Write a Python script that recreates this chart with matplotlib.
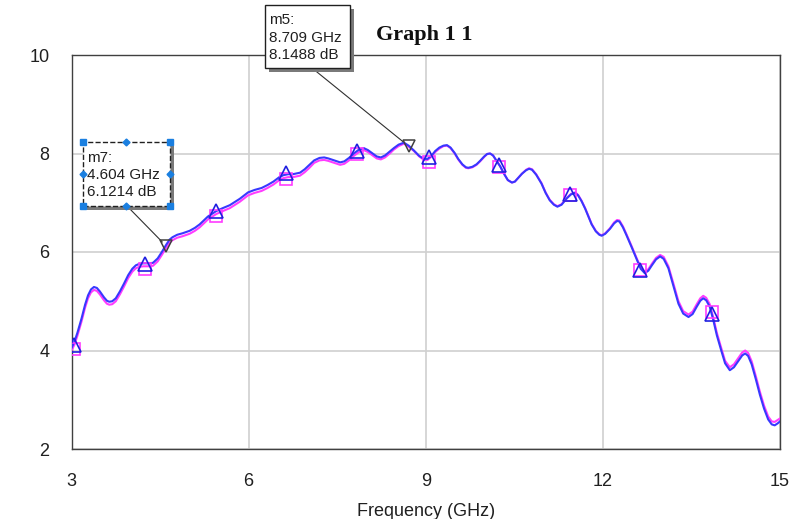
import matplotlib
matplotlib.use("Agg")
import matplotlib.pyplot as plt
from matplotlib.patches import Rectangle

# traces (GHz, dB)
freq = [3.00, 3.05, 3.10, 3.17, 3.23, 3.28, 3.33, 3.38, 3.43, 3.48,
        3.55, 3.60, 3.64, 3.69, 3.75, 3.82, 3.89, 3.96, 4.03, 4.09,
        4.15, 4.22, 4.30, 4.38, 4.46, 4.53, 4.60, 4.66, 4.71, 4.79,
        4.88, 5.00, 5.09, 5.17, 5.31, 5.45, 5.56, 5.68, 5.85, 5.99,
        6.10, 6.22, 6.32, 6.42, 6.52, 6.59, 6.67, 6.75, 6.87, 6.95,
        7.03, 7.11, 7.20, 7.28, 7.35, 7.45, 7.55, 7.62, 7.70, 7.78,
        7.87, 7.95, 8.02, 8.10, 8.17, 8.24, 8.31, 8.39, 8.46, 8.54,
        8.63, 8.71, 8.80, 8.89, 8.97, 9.03, 9.10, 9.16, 9.23, 9.30,
        9.36, 9.42, 9.49, 9.55, 9.62, 9.68, 9.72, 9.79, 9.86, 9.92,
        9.99, 10.04, 10.09, 10.14, 10.20, 10.26, 10.33, 10.39, 10.46, 10.51,
        10.57, 10.63, 10.70, 10.75, 10.80, 10.87, 10.96, 11.03, 11.10, 11.17,
        11.23, 11.30, 11.39, 11.46, 11.53, 11.58, 11.64, 11.70, 11.81, 11.88,
        11.94, 11.98, 12.04, 12.12, 12.19, 12.24, 12.28, 12.34, 12.40, 12.49,
        12.57, 12.64, 12.71, 12.77, 12.83, 12.90, 12.97, 13.03, 13.11, 13.19,
        13.28, 13.36, 13.45, 13.52, 13.59, 13.65, 13.70, 13.75, 13.81, 13.87,
        13.93, 14.00, 14.07, 14.15, 14.22, 14.29, 14.36, 14.41, 14.46, 14.52,
        14.59, 14.66, 14.73, 14.80, 14.86, 14.91, 14.96, 15.00]

db_blue = [4.05, 4.18, 4.36, 4.65, 4.93, 5.12, 5.24, 5.29, 5.27, 5.20,
           5.08, 5.01, 4.99, 5.00, 5.06, 5.20, 5.36, 5.53, 5.66, 5.73,
           5.76, 5.77, 5.77, 5.78, 5.87, 6.00, 6.14, 6.25, 6.30, 6.35,
           6.38, 6.43, 6.49, 6.56, 6.72, 6.83, 6.89, 6.95, 7.08, 7.21,
           7.26, 7.30, 7.36, 7.43, 7.52, 7.56, 7.58, 7.58, 7.61, 7.68,
           7.77, 7.86, 7.91, 7.92, 7.90, 7.86, 7.82, 7.84, 7.91, 8.00,
           8.08, 8.11, 8.07, 8.00, 7.94, 7.92, 7.96, 8.04, 8.11, 8.18,
           8.22, 8.16, 8.06, 7.95, 7.89, 7.89, 7.96, 8.05, 8.12, 8.16,
           8.17, 8.12, 8.01, 7.89, 7.78, 7.72, 7.71, 7.73, 7.78, 7.85,
           7.94, 7.99, 8.00, 7.96, 7.85, 7.74, 7.58, 7.46, 7.41, 7.43,
           7.51, 7.59, 7.66, 7.69, 7.67, 7.57, 7.39, 7.20, 7.05, 6.96,
           6.92, 6.96, 7.09, 7.17, 7.20, 7.15, 7.03, 6.88, 6.56, 6.42,
           6.35, 6.33, 6.37, 6.47, 6.58, 6.63, 6.62, 6.50, 6.34, 6.09,
           5.86, 5.66, 5.57, 5.62, 5.73, 5.85, 5.91, 5.86, 5.67, 5.33,
           4.95, 4.75, 4.68, 4.74, 4.89, 5.01, 5.06, 5.02, 4.89, 4.62,
           4.31, 4.02, 3.74, 3.60, 3.66, 3.78, 3.90, 3.94, 3.89, 3.72,
           3.42, 3.10, 2.82, 2.60, 2.50, 2.48, 2.52, 2.56]

db_pink = [4.00, 4.12, 4.30, 4.59, 4.87, 5.06, 5.18, 5.23, 5.21, 5.14,
           5.02, 4.95, 4.93, 4.94, 5.00, 5.14, 5.30, 5.47, 5.60, 5.67,
           5.70, 5.71, 5.71, 5.72, 5.81, 5.94, 6.08, 6.19, 6.24, 6.29,
           6.32, 6.37, 6.43, 6.50, 6.66, 6.77, 6.83, 6.89, 7.02, 7.15,
           7.20, 7.24, 7.30, 7.37, 7.46, 7.50, 7.52, 7.52, 7.55, 7.62,
           7.71, 7.81, 7.86, 7.87, 7.85, 7.81, 7.77, 7.79, 7.86, 7.95,
           8.03, 8.07, 8.03, 7.96, 7.90, 7.88, 7.92, 8.00, 8.08, 8.15,
           8.20, 8.14, 8.05, 7.94, 7.87, 7.87, 7.94, 8.03, 8.10, 8.15,
           8.16, 8.11, 8.00, 7.88, 7.77, 7.71, 7.70, 7.72, 7.77, 7.84,
           7.93, 7.99, 8.00, 7.96, 7.85, 7.74, 7.58, 7.46, 7.41, 7.43,
           7.51, 7.59, 7.67, 7.70, 7.68, 7.58, 7.40, 7.21, 7.06, 6.97,
           6.93, 6.97, 7.10, 7.18, 7.21, 7.16, 7.04, 6.89, 6.57, 6.43,
           6.36, 6.34, 6.38, 6.48, 6.60, 6.65, 6.64, 6.52, 6.36, 6.11,
           5.88, 5.69, 5.60, 5.65, 5.76, 5.88, 5.94, 5.90, 5.71, 5.38,
           5.00, 4.80, 4.73, 4.79, 4.94, 5.06, 5.11, 5.07, 4.94, 4.67,
           4.36, 4.07, 3.79, 3.66, 3.72, 3.84, 3.96, 4.00, 3.95, 3.78,
           3.48, 3.16, 2.88, 2.66, 2.56, 2.55, 2.59, 2.62]

# symbols drawn along each trace
tri_freq = [3.04, 4.24, 5.44, 6.64, 7.84, 9.05, 10.24, 11.44, 12.63, 13.84]
tri_db = [4.11, 5.76, 6.83, 7.60, 8.05, 7.93, 7.76, 7.17, 5.64, 4.75]
sq_freq = [3.04, 4.24, 5.44, 6.64, 7.84, 9.05, 10.24, 11.44, 12.63, 13.84]
sq_db = [4.03, 5.65, 6.73, 7.49, 7.98, 7.82, 7.73, 7.15, 5.64, 4.78]

# marker readouts
m_names = ['m5', 'm7']
m_freq = [8.709, 4.604]
m_db = [8.1488, 6.1214]

W, H = 800, 519
BLUE = '#3838ff'
PINK = '#ff3cff'


def fx(px):
    return px / W


def fy(py):
    return 1 - py / H


def draw_readout(fig, ax, box, name, f, d, anchor, selected=False):
    x0, y0, x1, y1 = box
    # shadow
    fig.patches.append(Rectangle((fx(x0 + 4), fy(y1 + 4)), fx(x1 - x0), (y1 - y0) / H,
                                 transform=fig.transFigure, facecolor='#7a7a7a',
                                 edgecolor='none', zorder=5))
    fig.patches.append(Rectangle((fx(x0), fy(y1)), fx(x1 - x0), (y1 - y0) / H,
                                 transform=fig.transFigure, facecolor='white',
                                 edgecolor='#202020', lw=1.0,
                                 linestyle='--' if selected else '-', zorder=6))
    fig.text(fx(x0 + 4), fy((y0 + y1) / 2 + 1),
             '{}:\n{:.3f} GHz\n{:.4f} dB'.format(name, f, d),
             ha='left', va='center', fontsize=11, family='Liberation Sans',
             color='#202020', linespacing=1.28, zorder=7)
    if selected:
        xm, ym = (x0 + x1) / 2, (y0 + y1) / 2
        for px, py in [(x0, y0), (x1, y0), (x0, y1), (x1, y1)]:
            fig.lines.append(plt.Line2D([fx(px)], [fy(py)], transform=fig.transFigure,
                                        marker='s', ms=4, color='#1a7fe0', zorder=8))
        for px, py in [(xm, y0), (xm, y1), (x0, ym), (x1, ym)]:
            fig.lines.append(plt.Line2D([fx(px)], [fy(py)], transform=fig.transFigure,
                                        marker='D', ms=3.5, color='#1a7fe0', zorder=8))
    ax.annotate('', xy=(f, d), xytext=(fx(anchor[0]), fy(anchor[1])),
                textcoords='figure fraction', annotation_clip=False,
                arrowprops=dict(arrowstyle='-', color='#303030', lw=0.8,
                                shrinkA=0, shrinkB=4))


def create_graph():
    fig = plt.figure(figsize=(W / 100, H / 100), dpi=100)
    ax = fig.add_axes([fx(71.5), fy(449), fx(780 - 71.5), (449 - 55) / H])

    ax.plot(freq, db_pink, color=PINK, lw=1.5, zorder=3)
    ax.plot(freq, db_blue, color=BLUE, lw=1.5, zorder=4)
    ax.plot(sq_freq, sq_db, ls='none', marker='s', ms=8.5, mfc='none',
            mec=PINK, mew=1.2, zorder=4)
    ax.plot(tri_freq, tri_db, ls='none', marker='^', ms=10, mfc='none',
            mec='#2020e0', mew=1.2, zorder=5)
    ax.plot(m_freq, m_db, ls='none', marker='v', ms=9, mfc='none',
            mec='#404040', mew=1.1, zorder=6)

    ax.set_xlim(3, 15)
    ax.set_ylim(2, 10)
    ax.set_xticks([3, 6, 9, 12, 15])
    ax.set_yticks([2, 4, 6, 8, 10])
    ax.grid(color='#d0d0d0', lw=1.2)
    ax.set_axisbelow(True)
    ax.tick_params(length=0, labelsize=13, colors='#202020')
    ax.tick_params(axis='x', pad=17)
    ax.tick_params(axis='y', pad=16)
    for lab in ax.get_xticklabels() + ax.get_yticklabels():
        lab.set_family('Liberation Sans')
    for s in ax.spines.values():
        s.set_color('#404040')
        s.set_linewidth(1.0)

    ax.set_xlabel('Frequency (GHz)', fontsize=13, family='Liberation Sans',
                  color='#202020', labelpad=10)
    fig.text(fx(424), fy(35), 'Graph 1 1', ha='center', va='center',
             fontsize=16, fontweight='bold', family='Liberation Serif', color='#101010')

    draw_readout(fig, ax, (265, 5, 350, 68), m_names[0], m_freq[0], m_db[0], (312, 68))
    draw_readout(fig, ax, (83, 142, 170, 206), m_names[1], m_freq[1], m_db[1], (127, 206),
                 selected=True)

    fig.savefig('out.png', dpi=100)


if __name__ == "__main__":
    create_graph()
